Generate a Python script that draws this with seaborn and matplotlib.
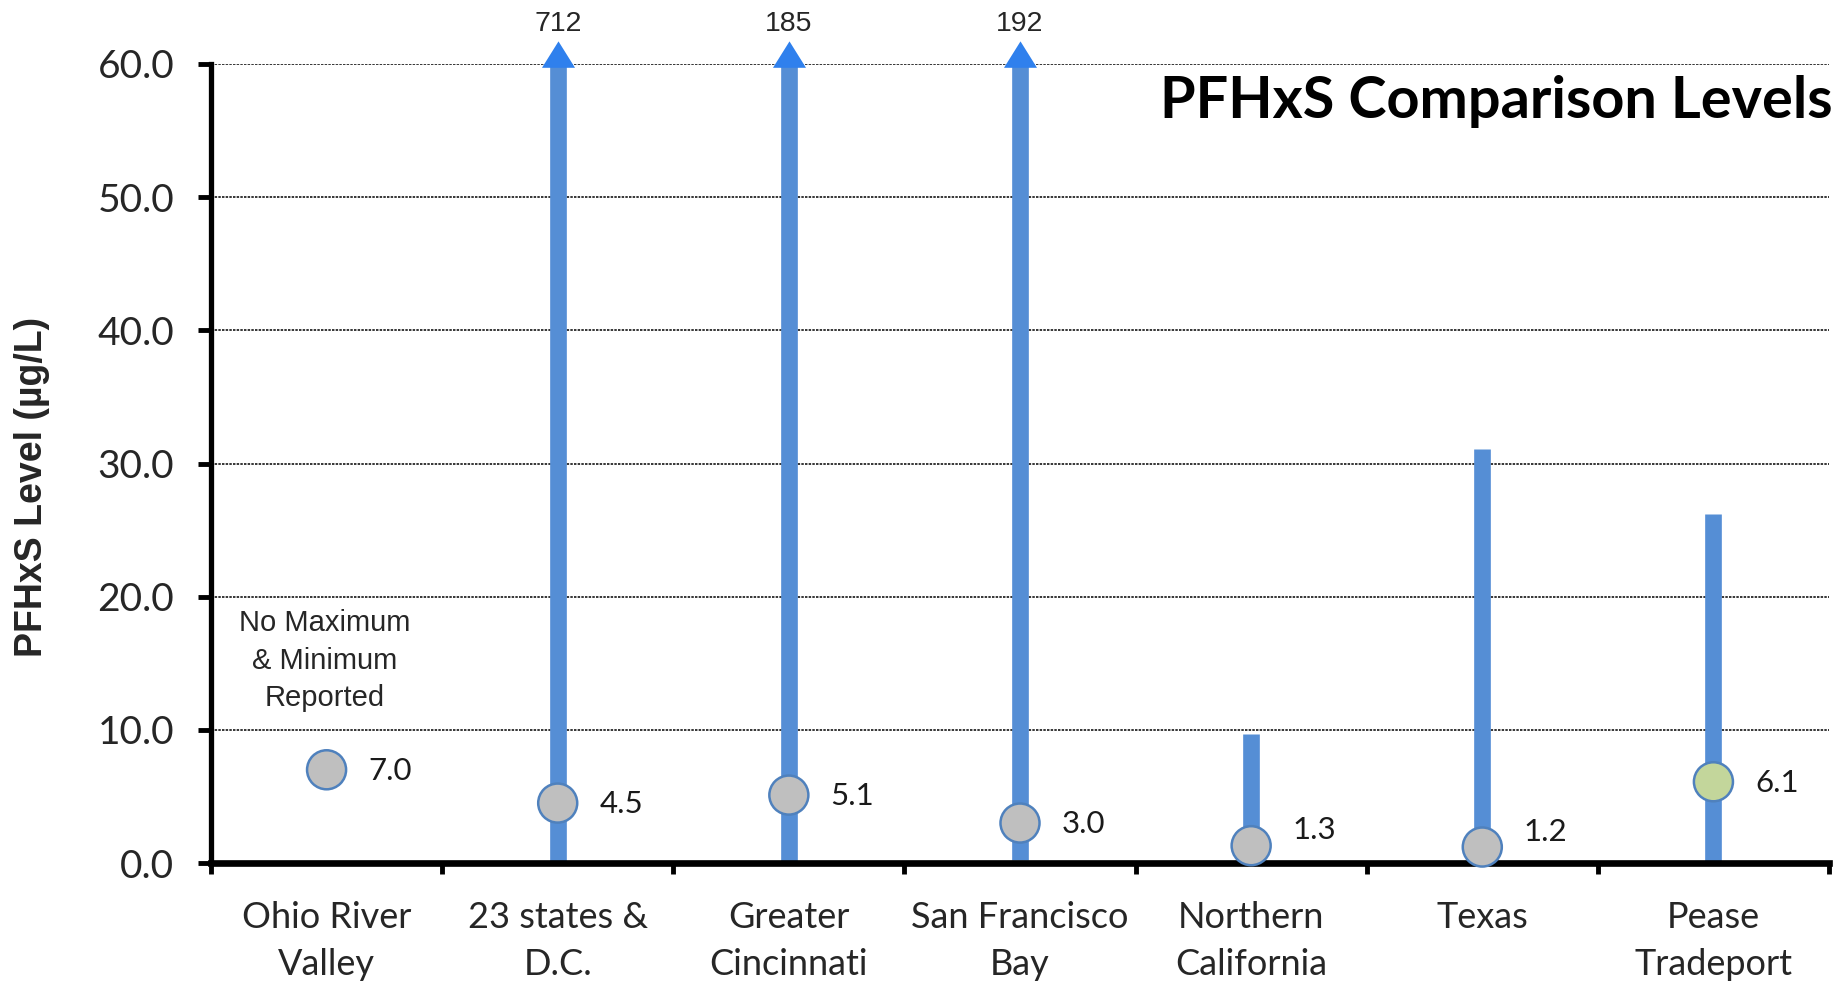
import numpy as np
import pandas as pd
import matplotlib
matplotlib.use("Agg")
import matplotlib.pyplot as plt
from matplotlib.path import Path
import seaborn as sns

# ---- data -------------------------------------------------------------
locations = ["Ohio River\nValley", "23 states &\nD.C.", "Greater\nCincinnati",
             "San Francisco\nBay", "Northern\nCalifornia", "Texas", "Pease\nTradeport"]
mean_levels = [7.0, 4.5, 5.1, 3.0, 1.3, 1.2, 6.1]
range_min = [np.nan, 0.0, 0.0, 0.2, 0.3, 0.3, 0.0]
range_max = [np.nan, 712, 185, 192, 9.7, 31.1, 26.2]
site_group = ["comparison"] * 6 + ["site"]
y_ticks = [0, 10, 20, 30, 40, 50, 60]
y_top = 60
note_text = "No Maximum\n& Minimum\nReported"
title_text = "PFHxS Comparison Levels"
y_label = "PFHxS Level (µg/L)"

# ---- style ------------------------------------------------------------
sns.set_theme(style="white")
plt.rcParams["font.family"] = ["Lato", "DejaVu Sans"]

BAR = "#558ED5"
ARROW = "#2F80ED"
EDGE = "#4F81BD"
palette = {"comparison": "#BFBFBF", "site": "#C3D69B"}

fig = plt.figure(figsize=(18.42, 9.82), dpi=100)
ax = fig.add_axes([211 / 1842, 1 - 863 / 982, (1829 - 211) / 1842, (863 - 64) / 982])

pos = np.arange(len(locations))
df = pd.DataFrame({"pos": pos, "level": mean_levels, "group": site_group,
                   "lo": range_min, "hi": range_max})

# dotted gridlines
for t in y_ticks[1:]:
    ax.axhline(t, color="black", lw=1.1, ls=(0, (1.6, 0.8)), zorder=0)

# min-max range bars, clipped at the top of the axis
rng = df.dropna(subset=["lo", "hi"])
ax.vlines(rng["pos"], rng["lo"], np.minimum(rng["hi"], y_top), color=BAR,
          lw=12, zorder=2, clip_on=False)

# arrowheads + value for ranges that exceed the axis
tri = Path([(-0.5, -0.1), (0.5, -0.1), (0.0, 0.7), (-0.5, -0.1)],
           [Path.MOVETO, Path.LINETO, Path.LINETO, Path.CLOSEPOLY])
over = rng[rng["hi"] > y_top]
for p, hi in zip(over["pos"], over["hi"]):
    ax.plot([p], [y_top], marker=tri, ms=33.3, color=ARROW, mec="none",
            clip_on=False, zorder=3)
    ax.annotate(f"{hi:.0f}", xy=(p, y_top), xytext=(0, 29), textcoords="offset points",
                ha="center", va="center", fontsize=20.5, family=["Liberation Sans"],
                annotation_clip=False)

# mean markers
sns.scatterplot(data=df, x="pos", y="level", hue="group", palette=palette,
                s=790, edgecolor=EDGE, linewidth=1.8, legend=False,
                zorder=5, clip_on=False, ax=ax)

# value labels beside the markers
label_nudge = [0, 0, 0, 0, 12, 12, 0]
for p, v, dy in zip(pos, mean_levels, label_nudge):
    ax.annotate(f"{v:.1f}", xy=(p, v), xytext=(30, dy - 1), textcoords="offset points",
                ha="left", va="center", fontsize=22.5, color="#1a1a1a",
                annotation_clip=False)

ax.text(-0.01, 15.2, note_text, ha="center", va="center", fontsize=21,
        family=["Liberation Sans"], linespacing=1.42)

# axes
ax.set_xlim(-0.5, len(locations) - 0.5)
ax.set_ylim(0, y_top)
ax.set_yticks(y_ticks)
ax.set_yticklabels([f"{t:.1f}" for t in y_ticks])
ax.set_xticks(pos)
ax.set_xticklabels(locations)
ax.set_xticks(np.arange(-0.5, len(locations)), minor=True)
ax.tick_params(axis="x", which="major", length=0, pad=27, labelsize=26)
ax.tick_params(axis="x", which="minor", direction="out", length=8, width=3.5,
               color="black", bottom=True)
ax.tick_params(axis="y", which="major", direction="out", length=9.5, width=3.5,
               color="black", pad=17, labelsize=28, left=True)
for lbl in ax.get_xticklabels():
    lbl.set_linespacing(1.55)
ax.set_xlabel("")
ax.set_ylabel("")

for side in ["top", "right"]:
    ax.spines[side].set_visible(False)
ax.spines["left"].set_linewidth(3.8)
ax.spines["bottom"].set_linewidth(4.8)
ax.spines["left"].set_color("black")
ax.spines["bottom"].set_color("black")
ax.spines["bottom"].set_zorder(4)

fig.text(32 / 1842, 1 - 487 / 982, y_label, rotation=90, ha="center", va="center",
         fontsize=27, fontweight="bold", family=["Liberation Sans"])
fig.text(1833 / 1842, 1 - 118 / 982, title_text, ha="right", va="baseline",
         fontsize=41.5, fontweight="bold", color="black")

fig.savefig("out.png", dpi=100)
